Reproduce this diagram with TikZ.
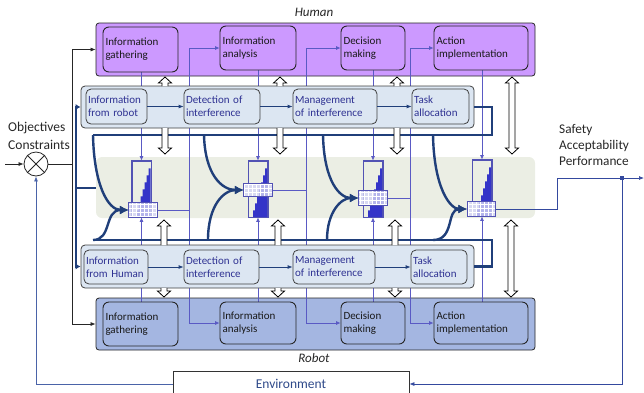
\documentclass[tikz,border=0pt]{standalone}
\usepackage{fontspec}
\setmainfont{Carlito}
\usetikzlibrary{arrows.meta}
\pgfdeclarelayer{bg}
\pgfdeclarelayer{lines}
\pgfsetlayers{bg,lines,main}
\definecolor{humfill}{HTML}{CC99FF}
\definecolor{robfill}{HTML}{A4B6E1}
\definecolor{midfill}{HTML}{DCE6F2}
\definecolor{bandfill}{HTML}{EBEEE4}
\definecolor{navy}{HTML}{203F7A}
\definecolor{thinb}{HTML}{5A5AC4}
\definecolor{txtb}{HTML}{2E3192}
\definecolor{stairc}{HTML}{3434C8}
\definecolor{gline}{HTML}{5252B4}
\definecolor{gboxfill}{HTML}{D4D4F6}
\definecolor{envc}{HTML}{2F4A8A}
\definecolor{fbkc}{HTML}{4A63A8}
\definecolor{outcol}{HTML}{34499E}

\newcommand\hArrUp[3]{\draw[hol] (#1-3,#3) -- (#1-3,#2+6) -- (#1-6.5,#2+6) -- (#1,#2) -- (#1+6.5,#2+6) -- (#1+3,#2+6) -- (#1+3,#3);}
\newcommand\hArrDn[3]{\draw[hol] (#1-3,#2) -- (#1-3,#3-6) -- (#1-6.5,#3-6) -- (#1,#3) -- (#1+6.5,#3-6) -- (#1+3,#3-6) -- (#1+3,#2);}
\newcommand\hArrDbl[3]{\draw[hol] (#1,#2) -- (#1+6.5,#2+6) -- (#1+3,#2+6) -- (#1+3,#3-6) -- (#1+6.5,#3-6) -- (#1,#3) -- (#1-6.5,#3-6) -- (#1-3,#3-6) -- (#1-3,#2+6) -- (#1-6.5,#2+6) -- cycle;}
\newcommand\gaugeAt[6]{%
 \node[grect] (#1r) at (#2,#3) {};
 \fill[stairc] ([xshift=5pt]#1r.south west) -- ++(0,-7) -- ++(2,0) -- ++(0,-7) -- ++(2,0) -- ++(0,-7) -- ++(2,0) -- ++(0,-7) -- ++(2,0) -- ++(0,-7) -- ++(2,0) -- ++(0,-7) -- ++(2,0) -- ++(0,-7) -- ++(2,0) |- (#1r.south east) -- cycle;
 \draw[gline, line width=0.8pt] (#1r.south west) rectangle (#1r.north east);
 \node[gbox, minimum height=#6] (#1b) at (#4,#5) {};
 \begin{scope}
  \clip (#1b.south west) rectangle (#1b.north east);
  \draw[white, line width=0.6pt] ([shift={(-2,2)}]#1b.south west) grid[step=4pt] ([shift={(2,-2)}]#1b.north east);
 \end{scope}
 \draw[gline, line width=0.8pt] (#1b.south west) rectangle (#1b.north east);
}

\begin{document}
\begin{tikzpicture}[x=1pt,y=-1pt,
  outerbox/.style={draw=black!85, line width=0.8pt, rounded corners=3pt, inner sep=0pt},
  hbx/.style={draw=black!85, line width=0.9pt, rounded corners=6pt, inner xsep=2.5pt, inner ysep=0pt, align=left, font=\fontsize{11}{13}\selectfont, text=black!90},
  mbx/.style={draw=black!75, line width=0.8pt, rounded corners=5pt, fill=midfill, inner xsep=2pt, inner ysep=0pt, align=left, font=\fontsize{11}{13}\selectfont, text=txtb},
  grect/.style={draw=gline, line width=0.8pt, minimum width=19pt, minimum height=56pt, inner sep=0pt},
  gbox/.style={fill=gboxfill, fill opacity=0.8, minimum width=28pt, inner sep=0pt},
  thn/.style={draw=thinb, line width=0.7pt},
  ta/.style={-{Latex[length=4.5pt,width=4pt]}},
  thk/.style={draw=navy, line width=2.4pt},
  tha/.style={-{Latex[length=5pt,width=6pt]}},
  thb/.style={-{Latex[length=9pt,width=9pt]}},
  mcon/.style={draw=navy, line width=0.8pt, -{Latex[length=5pt,width=4pt]}},
  hol/.style={draw=black, line width=0.8pt, fill=white, line join=miter},
  blk/.style={draw=black!85, line width=0.7pt},
  ba/.style={-{Latex[length=5pt,width=4pt]}},
  fbk/.style={draw=fbkc, line width=0.7pt},
  outc/.style={draw=outcol, line width=0.7pt},
  oa/.style={-{Latex[length=5pt,width=4pt]}}
]
\useasboundingbox (0,0) rectangle (644,392);

\begin{pgfonlayer}{bg}
\node[fill=bandfill, rounded corners=6pt, minimum width=439pt, minimum height=61pt, inner sep=0pt] (band) at (315.5,187.5) {};
\node[outerbox, fill=humfill, minimum width=439pt, minimum height=53pt] (hum) at (315.5,49.5) {};
\node[outerbox, fill=robfill, minimum width=439pt, minimum height=52pt] (rob) at (315.5,324) {};
\end{pgfonlayer}

% Human inner
\node[hbx, fill=humfill, text width=70pt, minimum height=45pt] (hig) at (140.5,49.5) {Information\\gathering};
\node[hbx, fill=humfill, text width=71pt, minimum height=44pt] (hia) at (258,48) {Information\\analysis};
\node[hbx, fill=humfill, text width=59pt, minimum height=44pt] (hdm) at (373,48) {Decision\\making};
\node[hbx, fill=humfill, text width=89pt, minimum height=44pt] (hai) at (481,48) {Action\\implementation};
% Robot inner
\node[hbx, fill=robfill, text width=70pt, minimum height=44pt] (rig) at (140.5,324) {Information\\gathering};
\node[hbx, fill=robfill, text width=71pt, minimum height=42pt] (ria) at (258,323) {Information\\analysis};
\node[hbx, fill=robfill, text width=59pt, minimum height=42pt] (rdm) at (373,323) {Decision\\making};
\node[hbx, fill=robfill, text width=89pt, minimum height=42pt] (rai) at (481,323) {Action\\implementation};

% mid top
\node[outerbox, draw=black!75, fill=midfill, rounded corners=4pt, minimum width=393pt, minimum height=42pt] (mt) at (277.5,107) {};
\node[mbx, text width=57pt, minimum height=35pt] (mtr) at (116.5,106.5) {Information\\from robot};
\node[mbx, text width=72pt, minimum height=35pt] (mtd) at (222,106.5) {Detection of\\interference};
\node[mbx, text width=80pt, minimum height=35pt] (mtm) at (335,106.5) {Management\\of interference};
\node[mbx, text width=53pt, minimum height=35pt] (mtt) at (440.5,106.5) {Task\\allocation};
% mid bottom
\node[outerbox, draw=black!75, fill=midfill, rounded corners=4pt, minimum width=393pt, minimum height=43pt] (mb) at (277.5,266.5) {};
\node[mbx, text width=60pt, minimum height=34pt] (mbh) at (116,267) {Information\\from Human};
\node[mbx, text width=71pt, minimum height=34pt] (mbd) at (221.5,267) {Detection of\\interference};
\node[mbx, text width=78pt, minimum height=34pt] (mbm) at (334,267) {Management\\of interference};
\node[mbx, text width=52pt, minimum height=34pt] (mbt) at (439,267) {Task\\allocation};

\draw[mcon] (mtr) -- (mtd);
\draw[mcon] (mtd) -- (mtm);
\draw[mcon] (mtm) -- (mtt);
\draw[mcon] (mbh) -- (mbd);
\draw[mcon] (mbd) -- (mbm);
\draw[mcon] (mbm) -- (mbt);

% gauges
\gaugeAt{g1}{141.5}{189}{143}{210}{14pt}
\gaugeAt{g2}{258}{189}{258}{190}{12pt}
\gaugeAt{g3}{373}{189}{373}{198}{14pt}
\gaugeAt{g4}{482}{188}{481.5}{209}{14pt}

% thin lines
\begin{pgfonlayer}{lines}
\draw[thn,ta] (g1r.north |- hig.south) -- (g1r.north);
\draw[thn,ta] (g1r.south |- rig.north) -- (g1r.south);
\draw[thn,ta] (g2r.north |- hia.south) -- (g2r.north);
\draw[thn,ta] (g2r.south |- ria.north) -- (g2r.south);
\draw[thn,ta] (g3r.north |- hdm.south) -- (g3r.north);
\draw[thn,ta] (g3r.south |- rdm.north) -- (g3r.south);
\draw[thn,ta] (g4r.north |- hai.south) -- (g4r.north);
\draw[thn,ta] (g4r.south |- rai.north) -- (g4r.south);
\coordinate (v1) at (189,210);
\coordinate (v2) at (306,190);
\coordinate (v3) at (410,198);
\draw[thn] (g1b.east) -- (v1);
\draw[thn,ta] (v1) |- (hia.west);
\draw[thn,ta] (v1) |- (ria.west);
\draw[thn] (g2b.east) -- (v2);
\draw[thn,ta] (v2) |- (hdm.west);
\draw[thn,ta] (v2) |- (rdm.west);
\draw[thn] (g3b.east) -- (v3);
\draw[thn,ta] (v3) |- (hai.west);
\draw[thn,ta] (v3) |- (rai.west);
\end{pgfonlayer}

% thick buses
\coordinate (tbL) at (93,135);
\coordinate (tbR) at (492,135);
\coordinate (bbL) at (93,240);
\coordinate (bbR) at (492,240);
\draw[thk] (mt.east) -| (tbR) -- (tbL);
\draw[thk] (mb.east) -| (bbR) -- (bbL);
\coordinate (tl) at (76,188);
\draw[thk] (tl) -- (band.west |- tl);
\draw[thk,tha] (tl) |- (mt.west);
\draw[thk,tha] (tl) |- (mb.west);
\coordinate (t2) at (204,135);
\coordinate (b2) at (208,240);
\coordinate (t3) at (323,135);
\coordinate (b3) at (327,240);
\coordinate (t4) at (433,135);
\coordinate (b4) at (433,240);
\draw[thk,thb] (tbL) .. controls (94,185) and (108,210) .. (g1b.west);
\draw[thk,thb] (bbL) .. controls (112,240) and (104,210) .. (g1b.west);
\draw[thk,thb] (t2) .. controls (205,175) and (222,190) .. (g2b.west);
\draw[thk,thb] (b2) .. controls (208,205) and (224,190) .. (g2b.west);
\draw[thk,thb] (t3) .. controls (324,182) and (340,198) .. (g3b.west);
\draw[thk,thb] (b3) .. controls (327,212) and (341,198) .. (g3b.west);
\draw[thk,thb] (t4) .. controls (434,188) and (450,209) .. (g4b.west);
\draw[thk,thb] (b4) .. controls (455,240) and (446,209) .. (g4b.west);

% hollow arrows
\hArrUp{165}{77}{86} \hArrDn{165}{128}{154}
\hArrUp{280}{77}{86} \hArrDn{280}{128}{154}
\hArrUp{397}{77}{86} \hArrDn{397}{128}{154}
\hArrDbl{512}{77}{154}
\hArrUp{164}{220}{245} \hArrDn{164}{288}{297}
\hArrUp{278}{220}{245} \hArrDn{278}{288}{297}
\hArrUp{395}{220}{245} \hArrDn{395}{288}{297}
\hArrDbl{511}{220}{297}

% labels
\node[font=\fontsize{13}{15}\selectfont\itshape, text=black!85] (hl) at (314,12) {Human};
\node[font=\fontsize{13}{15}\selectfont\itshape, text=black!85] (rl) at (314,358) {Robot};
\node[anchor=west, inner sep=0pt, font=\fontsize{13.5}{16}\selectfont, text=black!85] (obj) at (8,128) {Objectives};
\node[anchor=west, inner sep=0pt, font=\fontsize{13.5}{16}\selectfont, text=black!85] (con) at (8,145) {Constraints};
\node[anchor=west, inner sep=0pt, align=left, font=\fontsize{13.3}{16}\selectfont, text=black!85] (spp) at (559,145) {Safety\\Acceptability\\Performance};

% comparator
\node[circle, draw=black!85, line width=0.8pt, minimum size=24pt, inner sep=0pt] (cmp) at (36,164) {};
\draw[black!85, line width=0.8pt] (cmp.north west) -- (cmp.south east) (cmp.north east) -- (cmp.south west);
\coordinate (inp) at (5,164);
\coordinate (jx) at (72,164);
\draw[blk,ba] (inp) -- (cmp.west);
\draw[blk] (cmp.east) -- (jx);
\draw[blk,ba] (jx) |- (hum.west);
\draw[blk,ba] (jx) |- (rob.west);

% environment
\node[draw=black!80, line width=0.8pt, fill=white, minimum width=236pt, minimum height=26pt, font=\fontsize{13.5}{16}\selectfont, text=envc] (env) at (291,384) {Environment};
\draw[fbk,-{Latex[length=5pt,width=4pt]}] (env.west) -| (cmp.south);

% output
\coordinate (o1) at (557,209);
\coordinate (sp) at (622,178);
\coordinate (outp) at (644,178);
\draw[outc] (g4b.east) -- (o1) |- (sp);
\draw[outc,oa] (sp) -- (outp);
\draw[outc,oa] (sp) |- (env.east);
\fill[outcol] ([shift={(-2,-2)}]sp) rectangle ([shift={(2,2)}]sp);
\end{tikzpicture}
\end{document}
